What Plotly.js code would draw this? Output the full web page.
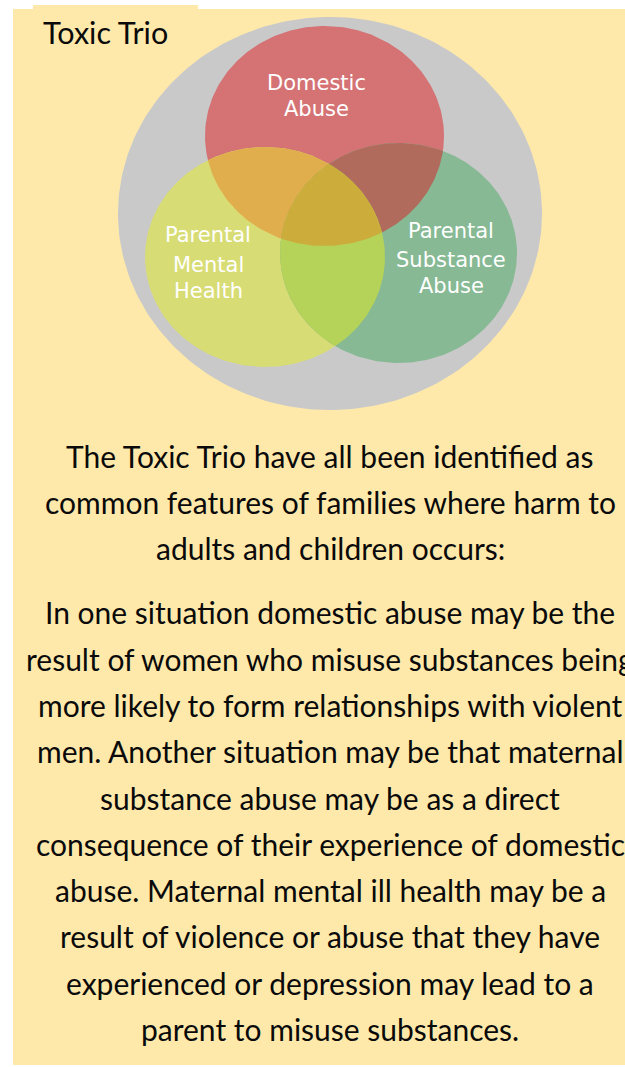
<!DOCTYPE html>
<html>
<head>
<meta charset="utf-8">
<script src="https://cdn.plot.ly/plotly-3.0.1.min.js"></script>
<style>
  html, body { margin: 0; padding: 0; background: #ffffff; }
  #chart { width: 625px; height: 1067px; }
</style>
</head>
<body>
<div id="chart"></div>
<script>
// ---------------- data ----------------
const chartTitle = "Toxic Trio";
const setNames = ["Domestic Abuse", "Parental Mental Health", "Parental Substance Abuse"];
const setLabelLines = [
  ["Domestic", "Abuse"],
  ["Parental", "Mental", "Health"],
  ["Parental", "Substance", "Abuse"]
];
const paragraphOne = [
  "The Toxic Trio have all been identified as",
  "common features of families where harm to",
  "adults and children occurs:"
];
const paragraphTwo = [
  "In one situation domestic abuse may be the",
  "result of women who misuse substances being",
  "more likely to form relationships with violent",
  "men. Another situation may be that maternal",
  "substance abuse may be as a direct",
  "consequence of their experience of domestic",
  "abuse. Maternal mental ill health may be a",
  "result of violence or abuse that they have",
  "experienced or depression may lead to a",
  "parent to misuse substances."
];

// ---------------- geometry & style (layout, not data) ----------------
const outerDisc = { cx: 330, cy: 213.5, rx: 212, ry: 196.5, color: "#C9C9C9" };
const setGeom = [
  { cx: 324.5, cy: 136, rx: 119.5, ry: 110, color: "#D47274" },
  { cx: 265,   cy: 257, rx: 120,   ry: 110, color: "#D8DC74" },
  { cx: 398.5, cy: 253, rx: 118.5, ry: 110, color: "#86B994" }
];
const overlapColors = { ab: "#E0AE4C", ac: "#B06B5C", bc: "#B5D259", abc: "#CCAD3C" };
const labelLineY = [[83, 109], [234.5, 264.5, 290.5], [230.5, 259.5, 285.5]];
const labelX = [316, 208, 451];
const labelFont = "'DejaVu Sans', Arial, sans-serif";
const labelSize = 21;
const bodyFont = "Lato, 'Open Sans', sans-serif";
const bodySize = 30;

// ---------------- helpers ----------------
function ellipsePoly(g, n) {
  const pts = [];
  for (let i = 0; i < n; i++) {
    const t = 2 * Math.PI * i / n;
    pts.push([g.cx + g.rx * Math.cos(t), g.cy + g.ry * Math.sin(t)]);
  }
  return pts;
}
function cross(a, b, p) { return (b[0]-a[0])*(p[1]-a[1]) - (b[1]-a[1])*(p[0]-a[0]); }
function lineInt(p, q, a, b) {
  const d1 = cross(a, b, p), d2 = cross(a, b, q);
  const t = d1 / (d1 - d2);
  return [p[0] + t*(q[0]-p[0]), p[1] + t*(q[1]-p[1])];
}
function clipPoly(subject, clipper) {
  let out = subject.slice();
  for (let i = 0; i < clipper.length; i++) {
    const a = clipper[i], b = clipper[(i+1) % clipper.length];
    const inp = out; out = [];
    if (!inp.length) break;
    for (let j = 0; j < inp.length; j++) {
      const p = inp[j], q = inp[(j+1) % inp.length];
      const pin = cross(a, b, p) >= 0, qin = cross(a, b, q) >= 0;
      if (qin) {
        if (!pin) out.push(lineInt(p, q, a, b));
        out.push(q);
      } else if (pin) {
        out.push(lineInt(p, q, a, b));
      }
    }
  }
  return out;
}
function polyTrace(pts, color, name) {
  const xs = pts.map(p => p[0]), ys = pts.map(p => p[1]);
  xs.push(xs[0]); ys.push(ys[0]);
  return { type: "scatter", mode: "lines", x: xs, y: ys, fill: "toself",
           fillcolor: color, line: { width: 0, color: color }, name: name,
           hoverinfo: "skip", showlegend: false };
}

// ---------------- traces ----------------
const N = 240;
const polys = setGeom.map(g => ellipsePoly(g, N));
const traces = [];
traces.push(polyTrace(ellipsePoly(outerDisc, N), outerDisc.color, "outer"));
setGeom.forEach((g, i) => traces.push(polyTrace(polys[i], g.color, setNames[i])));
const ab = clipPoly(polys[0], polys[1]);
const ac = clipPoly(polys[0], polys[2]);
const bc = clipPoly(polys[1], polys[2]);
const abc = clipPoly(ab, polys[2]);
traces.push(polyTrace(ab, overlapColors.ab, setNames[0] + " & " + setNames[1]));
traces.push(polyTrace(ac, overlapColors.ac, setNames[0] + " & " + setNames[2]));
traces.push(polyTrace(bc, overlapColors.bc, setNames[1] + " & " + setNames[2]));
traces.push(polyTrace(abc, overlapColors.abc, "All three"));

// ---------------- annotations ----------------
const annotations = [];
annotations.push({ x: 41, y: 44 - 0.387 * 30.5, xref: "x", yref: "y", text: chartTitle,
  showarrow: false, xanchor: "left", yanchor: "middle",
  font: { family: bodyFont, size: 30.5, color: "#0a0a0a" } });

setLabelLines.forEach((lines, i) => {
  lines.forEach((ln, k) => {
    annotations.push({ x: labelX[i], y: labelLineY[i][k], xref: "x", yref: "y", text: ln,
      showarrow: false, xanchor: "center", yanchor: "middle",
      font: { family: labelFont, size: labelSize, color: "#ffffff" } });
  });
});

const p1Base = 468, p2Base = 624, lineStep = 46.3;
paragraphOne.forEach((ln, k) => {
  annotations.push({ x: 330, y: p1Base + k * 46 - 0.387 * bodySize, xref: "x", yref: "y", text: ln,
    showarrow: false, xanchor: "center", yanchor: "middle",
    font: { family: bodyFont, size: bodySize, color: "#0a0a0a" } });
});
paragraphTwo.forEach((ln, k) => {
  annotations.push({ x: 330, y: p2Base + k * lineStep - 0.387 * bodySize, xref: "x", yref: "y", text: ln,
    showarrow: false, xanchor: "center", yanchor: "middle",
    font: { family: bodyFont, size: bodySize, color: "#0a0a0a" } });
});

// ---------------- layout ----------------
const layout = {
  width: 625, height: 1067,
  margin: { l: 0, r: 0, t: 0, b: 0, pad: 0 },
  paper_bgcolor: "#ffffff",
  plot_bgcolor: "rgba(0,0,0,0)",
  showlegend: false,
  xaxis: { range: [0, 625], visible: false, fixedrange: true },
  yaxis: { range: [1067, 0], visible: false, fixedrange: true },
  shapes: [
    { type: "rect", xref: "x", yref: "y", x0: 13, x1: 625, y0: 9, y1: 1065,
      fillcolor: "#FEE9AB", line: { width: 0 }, layer: "below" },
    { type: "rect", xref: "x", yref: "y", x0: 33, x1: 198, y0: 5, y1: 9,
      fillcolor: "#FEE9AB", line: { width: 0 }, layer: "below" }
  ],
  annotations: annotations
};

Plotly.newPlot("chart", traces, layout, { staticPlot: true, displayModeBar: false });
</script>
</body>
</html>
